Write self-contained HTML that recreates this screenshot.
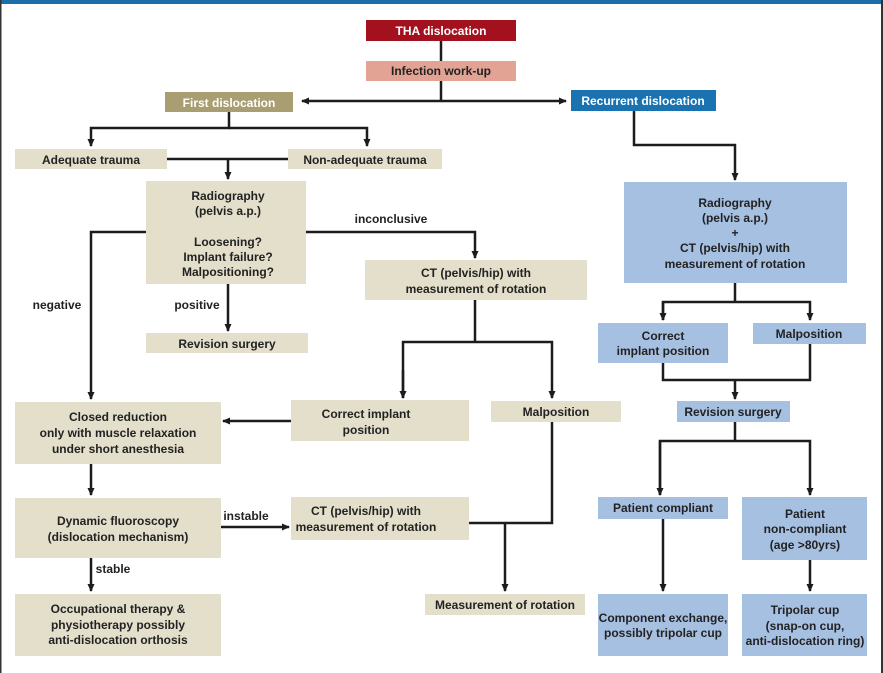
<!DOCTYPE html>
<html><head><meta charset="utf-8"><style>
body{margin:0;background:#fff}
svg{display:block}
text{font-family:"Liberation Sans",sans-serif;font-size:12px;font-weight:bold;fill:#222;text-anchor:middle}
.b{fill:#e3dfca}.u{fill:#a6c0e2}
line,polyline{stroke:#1c1c1c;stroke-width:2.5;fill:none}
</style></head><body>
<svg width="883" height="673" viewBox="0 0 883 673" xmlns="http://www.w3.org/2000/svg">
<defs><marker id="a" markerWidth="8" markerHeight="8" refX="7" refY="4" orient="auto" markerUnits="userSpaceOnUse"><path d="M0,0.5 L8,4 L0,7.5 Z" fill="#1c1c1c"/></marker></defs>
<rect x="0" y="0" width="883" height="673" fill="#fff"/>
<rect x="0" y="0" width="883" height="4" fill="#1a6fa8"/>
<rect x="0" y="0" width="1.5" height="673" fill="#333"/>
<rect x="881" y="0" width="2" height="673" fill="#333"/>

<!-- connectors -->
<line x1="441" y1="41" x2="441" y2="101"/>
<line x1="441" y1="101" x2="302" y2="101" marker-end="url(#a)"/>
<line x1="441" y1="101" x2="566" y2="101" marker-end="url(#a)"/>
<polyline points="229,112 229,128 91,128 91,146" marker-end="url(#a)"/>
<polyline points="229,128 367,128 367,146" marker-end="url(#a)"/>
<line x1="167" y1="159" x2="288" y2="159"/>
<line x1="228" y1="159" x2="228" y2="179" marker-end="url(#a)"/>
<polyline points="634,111 634,145 735,145 735,180" marker-end="url(#a)"/>
<polyline points="306,232 475,232 475,258" marker-end="url(#a)"/>
<polyline points="146,232 91,232 91,399" marker-end="url(#a)"/>
<line x1="228" y1="284" x2="228" y2="331" marker-end="url(#a)"/>
<line x1="475" y1="300" x2="475" y2="342"/>
<polyline points="403,398 403,342 552,342 552,398" marker-end="url(#a)"/>
<line x1="403" y1="370" x2="403" y2="398" marker-end="url(#a)"/>
<line x1="291" y1="421" x2="223" y2="421" marker-end="url(#a)"/>
<polyline points="552,422 552,523 469,523"/>
<line x1="505" y1="523" x2="505" y2="591" marker-end="url(#a)"/>
<line x1="91" y1="464" x2="91" y2="495" marker-end="url(#a)"/>
<line x1="221" y1="527" x2="289" y2="527" marker-end="url(#a)"/>
<line x1="91" y1="558" x2="91" y2="591" marker-end="url(#a)"/>
<line x1="735" y1="283" x2="735" y2="302"/>
<polyline points="663,320 663,302 810,302 810,320" marker-end="url(#a)"/>
<line x1="663" y1="302" x2="663" y2="320" marker-end="url(#a)"/>
<polyline points="663,363 663,380 810,380 810,344"/>
<line x1="735" y1="380" x2="735" y2="399" marker-end="url(#a)"/>
<line x1="735" y1="422" x2="735" y2="441"/>
<polyline points="660,495 660,441 810,441 810,495" marker-end="url(#a)"/>
<line x1="660" y1="441" x2="660" y2="495" marker-end="url(#a)"/>
<line x1="663" y1="519" x2="663" y2="591" marker-end="url(#a)"/>
<line x1="810" y1="560" x2="810" y2="591" marker-end="url(#a)"/>

<!-- boxes -->
<rect x="366" y="20" width="150" height="21" fill="#a3111e"/>
<text x="441" y="35" style="fill:#fff">THA dislocation</text>
<rect x="366" y="61" width="150" height="20" fill="#e2a394"/>
<text x="441" y="75">Infection work-up</text>
<rect x="165" y="92" width="128" height="20" fill="#a89e72"/>
<text x="229" y="107" style="fill:#fff">First dislocation</text>
<rect x="571" y="90" width="145" height="21" fill="#1a72b0"/>
<text x="643" y="105" style="fill:#fff">Recurrent dislocation</text>

<rect class="b" x="15" y="149" width="152" height="20"/><text x="91" y="164">Adequate trauma</text>
<rect class="b" x="288" y="149" width="154" height="20"/><text x="365" y="164">Non-adequate trauma</text>
<rect class="b" x="146" y="181" width="160" height="103"/>
<text x="228" y="200">Radiography</text><text x="228" y="215">(pelvis a.p.)</text>
<text x="228" y="246">Loosening?</text><text x="228" y="261">Implant failure?</text><text x="228" y="276">Malpositioning?</text>
<text x="391" y="223" style="font-weight:bold">inconclusive</text>
<text x="57" y="309">negative</text>
<text x="197" y="309">positive</text>
<rect class="b" x="146" y="333" width="162" height="20"/><text x="227" y="348">Revision surgery</text>
<rect class="b" x="365" y="260" width="222" height="40"/>
<text x="476" y="277">CT (pelvis/hip) with</text><text x="476" y="293">measurement of rotation</text>
<rect class="b" x="15" y="402" width="206" height="62"/>
<text x="118" y="421">Closed reduction</text><text x="118" y="437">only with muscle relaxation</text><text x="118" y="453">under short anesthesia</text>
<rect class="b" x="291" y="400" width="178" height="41"/>
<text x="366" y="418">Correct implant</text><text x="366" y="434">position</text>
<rect class="b" x="491" y="401" width="130" height="21"/><text x="556" y="416">Malposition</text>
<rect class="b" x="15" y="498" width="206" height="60"/>
<text x="118" y="525">Dynamic fluoroscopy</text><text x="118" y="541">(dislocation mechanism)</text>
<text x="246" y="520">instable</text>
<rect class="b" x="291" y="497" width="178" height="43"/>
<text x="366" y="515">CT (pelvis/hip) with</text><text x="366" y="531">measurement of rotation</text>
<text x="113" y="573">stable</text>
<rect class="b" x="15" y="594" width="206" height="62"/>
<text x="118" y="613">Occupational therapy &amp;</text><text x="118" y="629">physiotherapy possibly</text><text x="118" y="644">anti-dislocation orthosis</text>
<rect class="b" x="425" y="594" width="160" height="21"/><text x="505" y="609">Measurement of rotation</text>

<rect class="u" x="624" y="182" width="223" height="101"/>
<text x="735" y="207">Radiography</text><text x="735" y="222">(pelvis a.p.)</text><text x="735" y="237">+</text>
<text x="735" y="252">CT (pelvis/hip) with</text><text x="735" y="268">measurement of rotation</text>
<rect class="u" x="598" y="323" width="130" height="40"/>
<text x="663" y="340">Correct</text><text x="663" y="355">implant position</text>
<rect class="u" x="753" y="323" width="113" height="21"/><text x="809" y="338">Malposition</text>
<rect class="u" x="677" y="401" width="113" height="21"/><text x="733" y="416">Revision surgery</text>
<rect class="u" x="598" y="497" width="130" height="22"/><text x="663" y="512">Patient compliant</text>
<rect class="u" x="742" y="497" width="125" height="63"/>
<text x="805" y="518">Patient</text><text x="805" y="533">non-compliant</text><text x="805" y="549">(age &gt;80yrs)</text>
<rect class="u" x="598" y="594" width="130" height="62"/>
<text x="663" y="622">Component exchange,</text><text x="663" y="637">possibly tripolar cup</text>
<rect class="u" x="742" y="594" width="125" height="62"/>
<text x="805" y="614">Tripolar cup</text><text x="805" y="630">(snap-on cup,</text><text x="805" y="645">anti-dislocation ring)</text>
</svg>
</body></html>
